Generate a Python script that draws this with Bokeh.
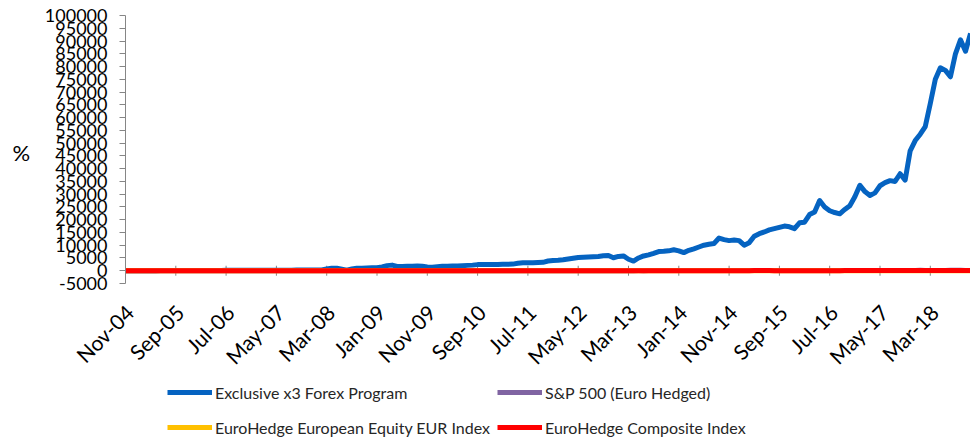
import math
import pandas as pd
from bokeh.plotting import figure
from bokeh.core.properties import value
from bokeh.models import (ColumnDataSource, Range1d, LinearAxis, FixedTicker, Legend,
                          LegendItem, NumeralTickFormatter, Label)
from bokeh.embed import file_html
from bokeh.resources import INLINE

# ---------------- data (monthly, Nov-04 .. Nov-18, cumulative %) ----------------
start_month = "2004-11-01"

exclusive_x3 = [
    0, 12, 25, 18, 33, 41, 38, 52, 66, 58, 71, 84, 79, 95, 104, 118, 109, 126, 133, 127,
    145, 158, 149, 166, 178, 171, 186, 197, 190, 208, 219, 231, 222, 240, 252, 244, 263, 275, 289, 320,
    700, 1000, 1000, 600, 200, 700, 1000, 1000, 1100, 1200, 1200, 1500, 2000, 2200, 1700, 1700, 1800, 1800, 1900, 1800,
    1500, 1400, 1600, 1800, 1800, 1900, 1900, 2000, 2100, 2200, 2400, 2400, 2400, 2400, 2400, 2500, 2500, 2600, 2900, 3100,
    3100, 3100, 3200, 3300, 3800, 4000, 4100, 4300, 4600, 4900, 5200, 5300, 5400, 5500, 5600, 5900, 6000, 5100, 5600, 5800,
    4500, 3800, 5000, 5800, 6200, 6800, 7500, 7600, 7800, 8200, 7800, 7100, 8000, 8600, 9300, 10000, 10400, 10700, 12800, 12200,
    11800, 12000, 11800, 10000, 11000, 13500, 14500, 15200, 16000, 16500, 17000, 17500, 17200, 16500, 18800, 19000, 22000, 23000,
    27500, 25000, 23500, 22800, 22300, 24000, 25500, 29000, 33500, 31000, 29500, 30500,
    33300, 34500, 35300, 35000, 38000, 35500, 47000, 51000, 53500, 56500,
    65500, 75000, 79500, 78500, 76000, 85000, 90500, 86000, 93000,
]

sp500_euro_hedged = [
    0, 3, 2, 4, 2, 0, 3, 3, 6, 5, 6, 5,
    9, 10, 12, 12, 14, 15, 11, 11, 12, 14, 17, 20,
    22, 24, 27, 25, 27, 29, 33, 31, 28, 30, 33, 35,
    30, 29, 21, 18, 17, 25, 27, 17, 15, 17, -6, -24,
    -25, -23, -30, -37, -32, -24, -20, -19, -12, -9, -11, -6,
    -7, -2, -5, 0, 6, 8, -1, -7, -1, -5, 4, 8,
    8, 15, 18, 22, 22, 25, 24, 21, 18, 9, 2, 13,
    12, 13, 17, 22, 26, 25, 16, 20, 21, 24, 26, 24,
    25, 27, 33, 35, 39, 42, 45, 42, 49, 45, 50, 57,
    61, 65, 59, 67, 68, 69, 73, 76, 74, 79, 76, 80,
    85, 84, 80, 90, 87, 90, 92, 88, 91, 81, 77, 89,
    90, 86, 77, 76, 87, 90, 92, 93, 100, 100, 100, 97,
    100, 104, 107, 115, 115, 117, 120, 121, 124, 124, 127, 132,
    137, 139, 149, 138, 133, 135, 139, 139, 147, 152, 153, 140,
    142,
]

eurohedge_eu_equity = [
    0, 1, 2, 3, 3, 2, 3, 4, 5, 6, 7, 7,
    8, 9, 10, 11, 12, 13, 11, 11, 12, 13, 14, 15,
    16, 17, 19, 19, 20, 21, 22, 21, 20, 20, 21, 22,
    21, 21, 18, 17, 17, 18, 19, 16, 15, 15, 10, 5,
    4, 4, 3, 2, 3, 5, 7, 9, 11, 12, 13, 13,
    13, 14, 13, 14, 16, 16, 14, 13, 14, 14, 16, 17,
    17, 18, 19, 20, 20, 21, 21, 20, 19, 15, 12, 13,
    13, 13, 14, 15, 16, 16, 14, 15, 16, 17, 18, 18,
    19, 20, 22, 23, 23, 24, 25, 24, 25, 25, 26, 27,
    28, 29, 29, 30, 31, 31, 32, 33, 33, 32, 33, 33,
    33, 33, 34, 36, 38, 39, 39, 39, 39, 37, 35, 36,
    36, 35, 33, 32, 33, 33, 33, 33, 33, 34, 35, 35,
    35, 36, 37, 38, 38, 39, 40, 40, 40, 41, 41, 42,
    42, 42, 43, 42, 41, 41, 41, 41, 40, 40, 39, 36,
    35,
]

eurohedge_composite = [
    0, 1, 2, 2, 3, 3, 3, 4, 5, 6, 6, 7,
    8, 9, 10, 11, 12, 13, 12, 12, 13, 14, 15, 16,
    17, 18, 19, 20, 21, 22, 23, 23, 22, 23, 24, 26,
    26, 26, 24, 24, 24, 25, 26, 25, 24, 24, 20, 16,
    14, 13, 12, 11, 11, 12, 14, 15, 17, 18, 19, 20,
    20, 21, 21, 22, 23, 23, 22, 21, 22, 23, 24, 25,
    25, 26, 27, 28, 28, 29, 29, 28, 27, 25, 23, 24,
    24, 24, 25, 26, 26, 27, 26, 26, 27, 27, 28, 28,
    29, 30, 31, 32, 32, 33, 33, 33, 34, 34, 35, 36,
    36, 37, 37, 38, 38, 39, 39, 40, 40, 40, 41, 41,
    41, 41, 42, 43, 44, 45, 45, 45, 45, 44, 43, 43,
    43, 43, 42, 41, 42, 42, 43, 43, 43, 44, 44, 45,
    45, 46, 46, 47, 47, 48, 48, 49, 49, 49, 50, 50,
    51, 51, 52, 51, 50, 51, 51, 51, 51, 51, 50, 48,
    47,
]

x_tick_labels = ["Nov-04", "Sep-05", "Jul-06", "May-07", "Mar-08", "Jan-09", "Nov-09",
                 "Sep-10", "Jul-11", "May-12", "Mar-13", "Jan-14", "Nov-14", "Sep-15",
                 "Jul-16", "May-17", "Mar-18"]
y_ticks = [-5000, 0, 5000, 10000, 15000, 20000, 25000, 30000, 35000, 40000, 45000, 50000,
           55000, 60000, 65000, 70000, 75000, 80000, 85000, 90000, 95000, 100000]

series_names = ["Exclusive x3 Forex Program", "S&P 500 (Euro Hedged)",
                "EuroHedge European Equity EUR Index", "EuroHedge Composite Index"]
series_colors = ["#0563C1", "#8064A2", "#FFC000", "#FF0000"]

# ---------------- layout constants (pixels) ----------------
W, H = 970, 438
AXIS_X = 125             # screen x of the value axis (first month)
AXIS_TOP = 15            # screen y of 100000
AXIS_PX = 268            # pixel height of the value axis (-5000 .. 100000)
PX_PER_MONTH = 5.03
FONT = "Lato"

# ---------------- build ----------------
n = len(exclusive_x3)
month_labels = [d.strftime("%b-%y") for d in pd.date_range(start_month, periods=n, freq="MS")]
idx = list(range(n))
tick_pos = [month_labels.index(l) for l in x_tick_labels]

y_min, y_max = y_ticks[0], y_ticks[-1]
upp = (y_max - y_min) / AXIS_PX
y_top = y_max + AXIS_TOP * upp
y_lo = y_max - (H - AXIS_TOP) * upp
x_lo = -AXIS_X / PX_PER_MONTH
x_hi = (W - AXIS_X) / PX_PER_MONTH

src = ColumnDataSource(dict(x=idx, a=exclusive_x3, b=sp500_euro_hedged,
                            c=eurohedge_eu_equity, d=eurohedge_composite))

p = figure(width=W, height=H, output_backend="svg", toolbar_location=None,
           x_range=Range1d(x_lo, x_hi), y_range=Range1d(y_lo, y_top),
           x_axis_type=None, y_axis_type=None, min_border=0)
p.outline_line_color = None
p.grid.visible = False
p.background_fill_color = "white"
p.border_fill_color = "white"

# category tick marks hanging below the zero line
p.scatter(x=tick_pos, y=[0] * len(tick_pos), marker="dash", angle=math.pi / 2, size=10,
          line_color="#868686", line_width=1)

renderers = []
for col, color in zip(["a", "b", "c", "d"], series_colors):
    r = p.line("x", col, source=src, line_color=color, line_width=5, line_join="round")
    renderers.append(r)

# rotated category labels under the value axis
p.text(x=tick_pos, y=[y_min] * len(tick_pos), text=x_tick_labels, angle=math.pi / 4,
       text_align="right", text_baseline="middle", x_offset=4, y_offset=25,
       text_font=value(FONT), text_font_size=value("21px"), text_color="#000000")

# value axis, drawn at the first month
ya = LinearAxis(fixed_location=0, ticker=FixedTicker(ticks=y_ticks), bounds=(y_min, y_max),
                formatter=NumeralTickFormatter(format="0"))
ya.axis_line_color = "#868686"
ya.major_tick_line_color = "#868686"
ya.major_tick_out = 6
ya.major_tick_in = 0
ya.minor_tick_line_color = None
ya.major_label_text_font = FONT
ya.major_label_text_font_size = "18px"
ya.major_label_text_color = "#000000"
ya.major_label_standoff = 12
p.add_layout(ya, "left")

# "%" axis title
p.add_layout(Label(x=12, y=H - 152, x_units="screen", y_units="screen", text="%",
                   text_font=FONT, text_font_size="22px", text_color="#000000",
                   text_baseline="middle", text_align="left"))

items = [LegendItem(label=nm, renderers=[r]) for nm, r in zip(series_names, renderers)]
legend = Legend(items=items, ncols=2, orientation="horizontal", location=(167, -3),
                border_line_alpha=0, padding=0, margin=0, spacing=7,
                glyph_width=45, glyph_height=28, label_standoff=3,
                label_text_font=FONT, label_text_font_size="16px",
                label_text_color="#262626", background_fill_alpha=0)
p.add_layout(legend, "center")

open("out.html", "w").write(file_html(p, INLINE))
